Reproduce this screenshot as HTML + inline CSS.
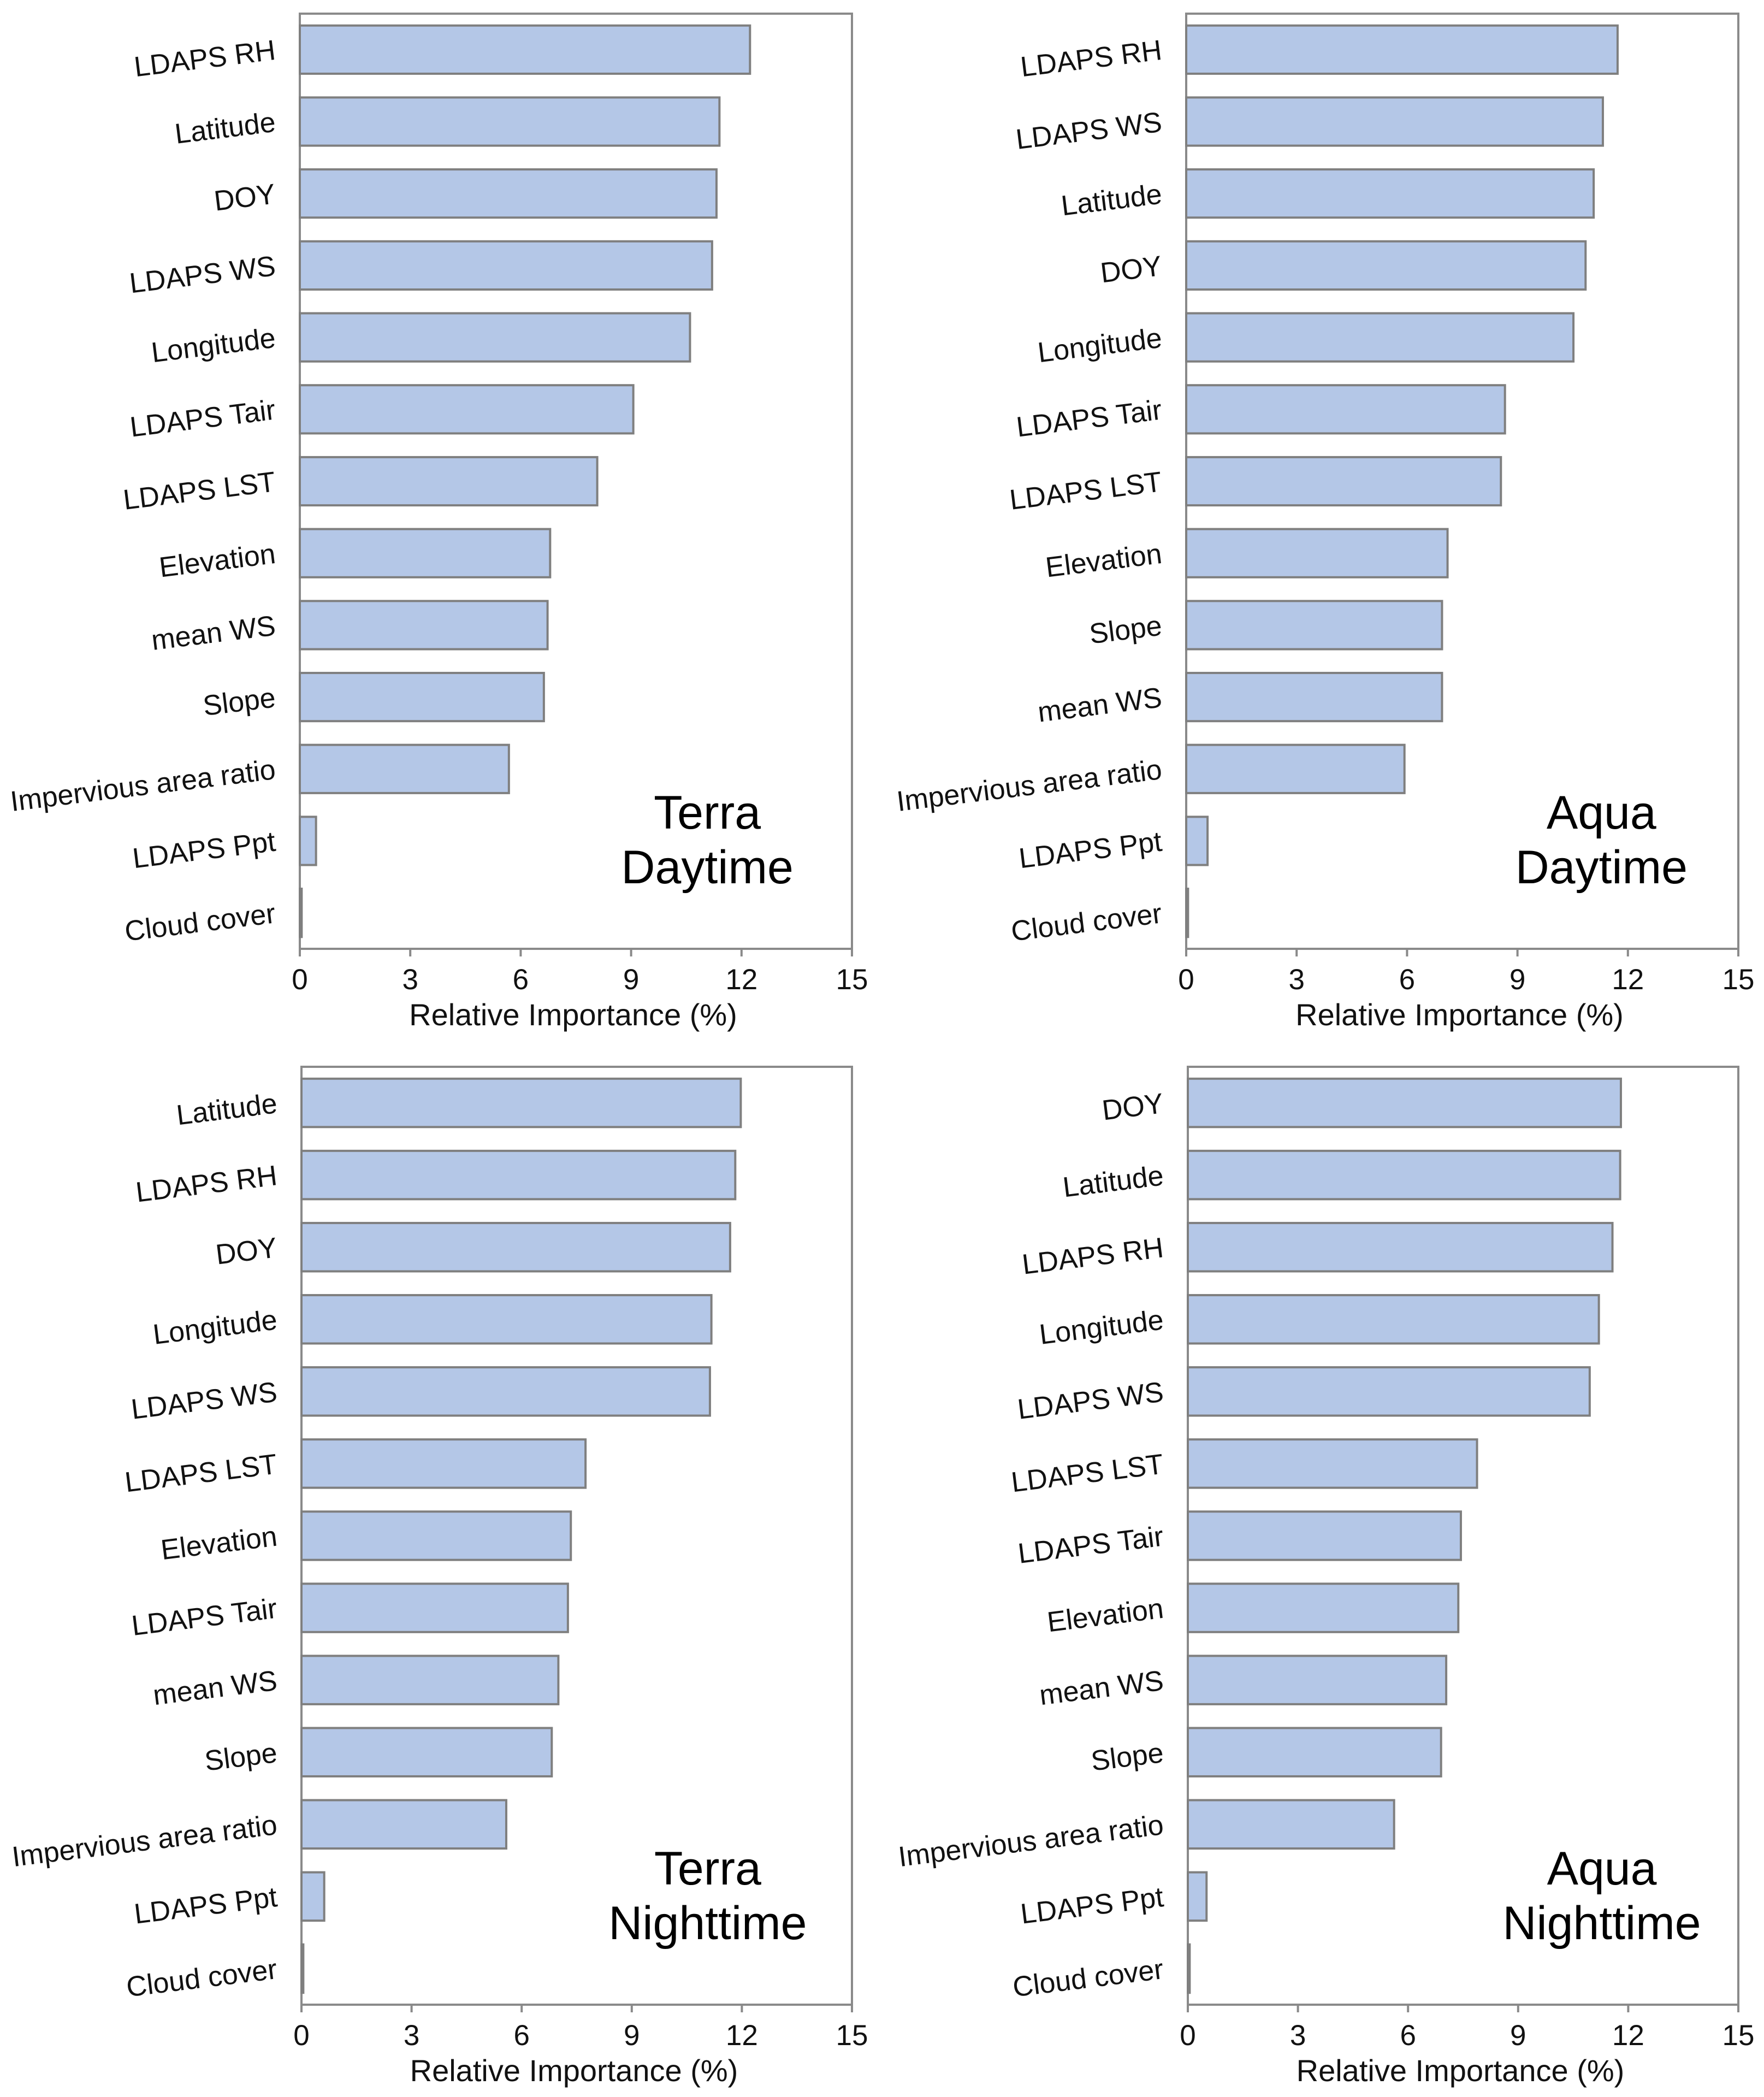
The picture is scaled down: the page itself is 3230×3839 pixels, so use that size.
<!DOCTYPE html>
<html><head><meta charset="utf-8"><style>
html,body{margin:0;padding:0;background:#fff;}
svg{display:block;font-family:"Liberation Sans",Arial,sans-serif;}
</style></head><body>
<svg id="chart" width="3230" height="3839" viewBox="0 0 3230 3839" xmlns="http://www.w3.org/2000/svg"></svg>
<script>
const tdCats = ["LDAPS RH","Latitude","DOY","LDAPS WS","Longitude","LDAPS Tair","LDAPS LST","Elevation","mean WS","Slope","Impervious area ratio","LDAPS Ppt","Cloud cover"];
const tdVals = [12.23,11.4,11.32,11.2,10.6,9.06,8.08,6.8,6.73,6.63,5.68,0.44,0.05];
const adCats = ["LDAPS RH","LDAPS WS","Latitude","DOY","Longitude","LDAPS Tair","LDAPS LST","Elevation","Slope","mean WS","Impervious area ratio","LDAPS Ppt","Cloud cover"];
const adVals = [11.72,11.32,11.07,10.85,10.52,8.66,8.55,7.1,6.95,6.95,5.93,0.58,0.05];
const tnCats = ["Latitude","LDAPS RH","DOY","Longitude","LDAPS WS","LDAPS LST","Elevation","LDAPS Tair","mean WS","Slope","Impervious area ratio","LDAPS Ppt","Cloud cover"];
const tnVals = [11.97,11.82,11.68,11.17,11.13,7.74,7.34,7.26,7.0,6.82,5.58,0.62,0.05];
const anCats = ["DOY","Latitude","LDAPS RH","Longitude","LDAPS WS","LDAPS LST","LDAPS Tair","Elevation","mean WS","Slope","Impervious area ratio","LDAPS Ppt","Cloud cover"];
const anVals = [11.8,11.78,11.57,11.2,10.95,7.88,7.44,7.37,7.04,6.9,5.62,0.51,0.05];
const xTicks = [0,3,6,9,12,15];
const xMax = 15;

const NS = "http://www.w3.org/2000/svg";
const svg = document.getElementById('chart');
function mk(tag, attrs, parent){
  const e = document.createElementNS(NS, tag);
  for (const k in attrs) e.setAttribute(k, attrs[k]);
  parent.appendChild(e);
  return e;
}
const panels = [
  {id:"terra-day", cats:tdCats, vals:tdVals, l:549, r:1560, t:25, b:1737, title:["Terra","Daytime"], tf:0.738},
  {id:"aqua-day", cats:adCats, vals:adVals, l:2172, r:3183, t:25, b:1737, title:["Aqua","Daytime"], tf:0.752},
  {id:"terra-night", cats:tnCats, vals:tnVals, l:552, r:1560, t:1953, b:3670, title:["Terra","Nighttime"], tf:0.738},
  {id:"aqua-night", cats:anCats, vals:anVals, l:2175, r:3183, t:1953, b:3670, title:["Aqua","Nighttime"], tf:0.752}
];
panels.forEach(p => {
  const g = mk('g', {}, svg);
  
  
  const x = v => p.l + (v / xMax) * (p.r - p.l);
  const band = (p.b - p.t) / p.cats.length;
  const y = i => p.t + i * band;
  const frame = mk('rect', {x:p.l, y:p.t, width:p.r-p.l, height:p.b-p.t, fill:'none', stroke:'#8a8a8a', 'stroke-width':4}, g);
  
  
  p.cats.forEach((c, i) => {
    const bh = band * 0.67;
    const by = y(i) + (band - bh) / 2;
    const bar = mk('rect', {x:p.l, y:by, width:Math.max(x(p.vals[i]) - p.l, 1), height:bh, fill:'#b4c7e7', stroke:'#7f7f7f', 'stroke-width':4}, g);
    
    
    const cy = y(i) + band / 2;
    const lx = p.l - 45;
    const t = mk('text', {x:lx, y:cy + 18, 'text-anchor':'end', 'font-size':52, fill:'#111', transform:`rotate(-7 ${lx} ${cy})`}, g);
    t.textContent = c;
    
    
  });
  xTicks.forEach(v => {
    const tk = mk('line', {x1:x(v), x2:x(v), y1:p.b, y2:p.b + 14, stroke:'#8a8a8a', 'stroke-width':4}, g);
    
    
    const tl = mk('text', {x:x(v), y:p.b + 74, 'text-anchor':'middle', 'font-size':53, fill:'#111'}, g);
    tl.textContent = v;
    
    
  });
  const xt = mk('text', {x:(p.l + p.r) / 2 - 5, y:p.b + 140, 'text-anchor':'middle', 'font-size':56, fill:'#111'}, g);
  xt.textContent = 'Relative Importance (%)';
  
  
  const cx = p.l + (p.r - p.l) * p.tf;
  p.title.forEach((s, k) => {
    const tt = mk('text', {x:cx, y:p.b - 220 + k * 100, 'text-anchor':'middle', 'font-size':86, fill:'#000'}, g);
    tt.textContent = s;
    
    
  });
});
</script>
</body></html>
